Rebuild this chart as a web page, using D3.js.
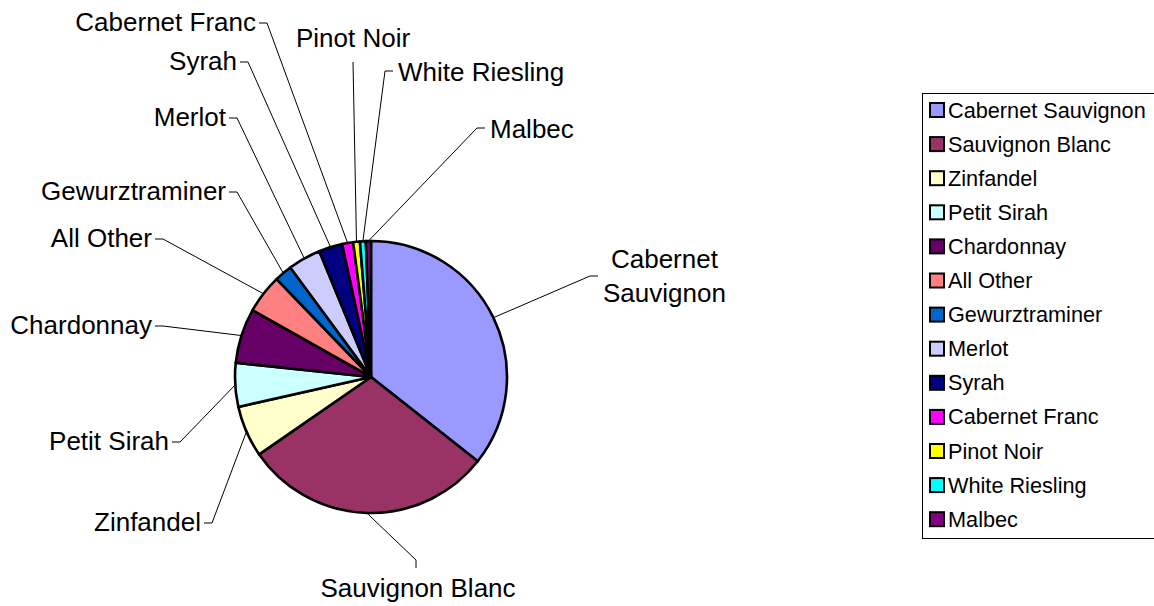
<!DOCTYPE html>
<html lang="en">
<head>
    <meta charset="UTF-8">
    <title>Wine varieties</title>
    <script src="https://cdn.jsdelivr.net/npm/d3@7/dist/d3.min.js"></script>
    <style>
        body { margin: 0; background: #fff; }
        text { font-family: "Liberation Sans", Arial, sans-serif; fill: #000; }
    </style>
</head>
<body>
    <div id="chart"></div>
    <script>
        // data (share of total, %)
        var categories = ['Cabernet Sauvignon', 'Sauvignon Blanc', 'Zinfandel', 'Petit Sirah', 'Chardonnay',
                          'All Other', 'Gewurztraminer', 'Merlot', 'Syrah', 'Cabernet Franc',
                          'Pinot Noir', 'White Riesling', 'Malbec'];
        var values = [35.6, 29.7, 6.1, 5.2, 6.5, 4.6, 2.1, 3.9, 2.8, 1.3, 0.8, 0.7, 0.6];
        var colors = ['#9999FF', '#993366', '#FFFFCC', '#CCFFFF', '#660066', '#FF8080', '#0066CC',
                      '#CCCCFF', '#000080', '#FF00FF', '#FFFF00', '#00FFFF', '#800080'];

        // where each label's leader line ends, and which way the label sits
        var labelAnchors = [[590, 276], [416, 560], [212, 523], [180, 442], [163, 326], [163, 239],
                            [237, 192], [237, 118], [248, 62], [267, 23], [353, 62], [385, 71], [477, 128]];
        var labelSides = ['right', 'down', 'left', 'left', 'left', 'left',
                          'left', 'left', 'left', 'left', 'up', 'right', 'right'];

        var width = 1154, height = 606;
        var cx = 371, cy = 377, radius = 136;
        var tick = 8;

        var svg = d3.select('#chart').append('svg').attr('width', width).attr('height', height);

        var pie = d3.pie().sort(null).value(function(d){ return d; });
        var arcs = pie(values);
        var arc = d3.arc().innerRadius(0).outerRadius(radius);

        var g = svg.append('g').attr('transform', 'translate(' + cx + ',' + cy + ')');
        g.selectAll('path').data(arcs).enter().append('path')
            .attr('d', arc)
            .attr('fill', function(d, i){ return colors[i]; })
            .attr('stroke', '#000')
            .attr('stroke-width', 2.6)
            .attr('stroke-linejoin', 'round');

        // leader lines + labels
        var labels = svg.append('g');
        arcs.forEach(function(d, i){
            var mid = (d.startAngle + d.endAngle) / 2;
            var ex = cx + radius * Math.sin(mid);
            var ey = cy - radius * Math.cos(mid);
            var a = labelAnchors[i], side = labelSides[i];
            var pts = [[ex, ey], a];
            if(side == 'left') pts.push([a[0] - tick, a[1]]);
            if(side == 'right') pts.push([a[0] + tick, a[1]]);
            if(side == 'down') pts.push([a[0], a[1] + tick]);
            labels.append('path')
                .attr('d', d3.line()(pts))
                .attr('fill', 'none')
                .attr('stroke', '#000')
                .attr('stroke-width', 1);

            var t = labels.append('text').attr('font-size', 26);
            if(side == 'left'){
                t.attr('text-anchor', 'end').attr('x', a[0] - tick - 3).attr('y', a[1] + 8).text(categories[i]);
            } else if(side == 'up'){
                t.attr('text-anchor', 'middle').attr('x', a[0]).attr('y', a[1] - 15).text(categories[i]);
            } else if(side == 'down'){
                t.attr('text-anchor', 'middle').attr('x', a[0] + 2).attr('y', a[1] + tick + 29).text(categories[i]);
            } else if(i == 0){
                // two-line label, lines centred on each other
                var words = categories[i].split(' ');
                t.attr('text-anchor', 'middle');
                var maxW = 0;
                words.forEach(function(w, k){
                    var ts = t.append('tspan').attr('x', 0).attr('y', a[1] - 8 + k * 34).text(w);
                    maxW = Math.max(maxW, ts.node().getComputedTextLength());
                });
                t.selectAll('tspan').attr('x', a[0] + tick + 5 + maxW / 2);
            } else {
                t.attr('text-anchor', 'start').attr('x', a[0] + tick + 5).attr('y', a[1] + 10).text(categories[i]);
            }
        });

        // legend
        var lx = 922, ly = 93, rowH = 34.1, firstRow = 110;
        svg.append('rect')
            .attr('x', lx + 0.5).attr('y', ly + 0.5)
            .attr('width', 260).attr('height', 445)
            .attr('fill', '#fff').attr('stroke', '#000').attr('stroke-width', 1);

        var item = svg.selectAll('.leg').data(categories).enter().append('g')
            .attr('class', 'leg')
            .attr('transform', function(d, i){ return 'translate(' + lx + ',' + (firstRow + i * rowH) + ')'; });
        item.append('rect')
            .attr('x', 8).attr('y', -7).attr('width', 14).attr('height', 14)
            .attr('fill', function(d, i){ return colors[i]; })
            .attr('stroke', '#000').attr('stroke-width', 2);
        item.append('text')
            .attr('x', 26).attr('y', 7.5)
            .attr('font-size', 21.7)
            .text(function(d){ return d; });
    </script>
</body>
</html>
